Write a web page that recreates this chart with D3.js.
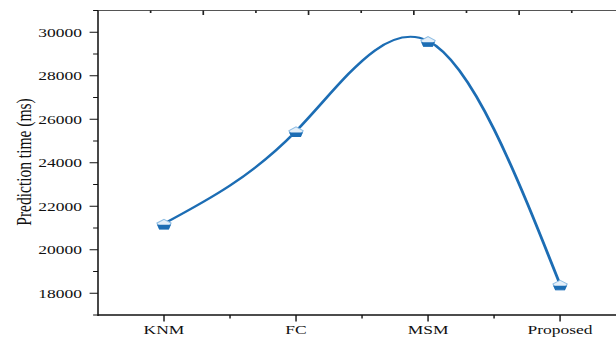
<!DOCTYPE html>
<html>
<head>
<meta charset="utf-8">
<script src="https://cdn.jsdelivr.net/npm/d3@7"></script>
<style>
  html, body { margin: 0; padding: 0; background: #fff; }
  svg { display: block; }
  text { font-family: "Liberation Serif", "Times New Roman", serif; fill: #111; }
</style>
</head>
<body>
<div id="chart"></div>
<script>
// chart data
const categories = ["KNM", "FC", "MSM", "Proposed"];
const predictionTime = [21200, 25450, 29600, 18400];
const yMajorTicks = [18000, 20000, 22000, 24000, 26000, 28000, 30000];
const yMinorTicks = [17000, 19000, 21000, 23000, 25000, 27000, 29000, 31000];
const yLabel = "Prediction time (ms)";

// the reference is a horizontally stretched picture, so we draw in a narrower
// space and let the viewBox stretch it out
const outW = 616, outH = 341;
const stretch = 1.4;
const W = outW / stretch, H = outH;
const plotLeft = 70, plotTop = 10.5, plotBottom = 315, plotRight = 447.2;

const svg = d3.select("#chart")
  .append("svg")
  .attr("width", outW)
  .attr("height", outH)
  .attr("viewBox", `0 0 ${W} ${H}`)
  .attr("preserveAspectRatio", "none");

const x = d3.scaleBand()
  .domain(categories)
  .range([plotLeft, plotRight])
  .padding(0);

const y = d3.scaleLinear()
  .domain([17000, 31000])
  .range([plotBottom, plotTop]);

const cx = d => x(d) + x.bandwidth() / 2;

// frame: top line with inward ticks
const topStep = 37.6;
const topScale = d3.scaleLinear().domain([0, 10]).range([plotLeft, plotLeft + 10 * topStep]);
const gTop = svg.append("g").attr("transform", `translate(0,${plotTop})`);
gTop.append("line")
  .attr("x1", plotLeft).attr("x2", W)
  .attr("stroke", "#555").attr("stroke-width", 1.2);
gTop.selectAll("line.t")
  .data(d3.range(1, 10))
  .join("line")
  .attr("class", "t")
  .attr("x1", topScale).attr("x2", topScale)
  .attr("y1", 0).attr("y2", d => d % 2 === 0 ? 4.5 : 2.5)
  .attr("stroke", "#222").attr("stroke-width", 1.2);

// y axis
const gY = svg.append("g").attr("transform", `translate(${plotLeft},0)`);
gY.append("line")
  .attr("y1", plotTop).attr("y2", plotBottom + 1)
  .attr("stroke", "#111").attr("stroke-width", 1.1);
gY.selectAll("line.maj")
  .data(yMajorTicks)
  .join("line")
  .attr("class", "maj")
  .attr("x1", 0).attr("x2", -6)
  .attr("y1", y).attr("y2", y)
  .attr("stroke", "#111").attr("stroke-width", 1);
gY.selectAll("line.min")
  .data(yMinorTicks)
  .join("line")
  .attr("class", "min")
  .attr("x1", 0).attr("x2", -3.5)
  .attr("y1", y).attr("y2", y)
  .attr("stroke", "#111").attr("stroke-width", 1);
gY.selectAll("text")
  .data(yMajorTicks)
  .join("text")
  .attr("x", -11.5)
  .attr("y", y)
  .attr("dy", "0.35em")
  .attr("text-anchor", "end")
  .style("font-size", "12.5px")
  .text(d => d);

svg.append("text")
  .attr("transform", `translate(16.5,${162}) rotate(-90)`)
  .attr("text-anchor", "middle")
  .attr("dy", "0.35em")
  .style("font-size", "15.5px")
  .text(yLabel);

// x axis
const gX = svg.append("g").attr("transform", `translate(0,${plotBottom})`);
gX.append("line")
  .attr("x1", plotLeft).attr("x2", W)
  .attr("stroke", "#111").attr("stroke-width", 1.3);
gX.selectAll("line.maj")
  .data(categories)
  .join("line")
  .attr("class", "maj")
  .attr("x1", cx).attr("x2", cx)
  .attr("y1", 0).attr("y2", 6.5)
  .attr("stroke", "#111").attr("stroke-width", 1);
gX.selectAll("line.min")
  .data(categories)
  .join("line")
  .attr("class", "min")
  .attr("x1", d => x(d) + x.bandwidth()).attr("x2", d => x(d) + x.bandwidth())
  .attr("y1", 0).attr("y2", 3.5)
  .attr("stroke", "#111").attr("stroke-width", 1);
gX.selectAll("text")
  .data(categories)
  .join("text")
  .attr("x", cx)
  .attr("y", 19.5)
  .attr("text-anchor", "middle")
  .style("font-size", "12.5px")
  .text(d => d);

// spline curve
const blue = "#1c6db4";
const line = d3.line()
  .x((d, i) => cx(categories[i]))
  .y(d => y(d))
  .curve(d3.curveNatural);

svg.append("path")
  .datum(predictionTime)
  .attr("d", line)
  .attr("fill", "none")
  .attr("stroke", blue)
  .attr("stroke-width", 2.1);

// half-filled pentagon markers
const R = 5.3;
const pent = d3.range(5).map(k => {
  const a = -Math.PI / 2 + k * 2 * Math.PI / 5;
  return [R * Math.cos(a), R * Math.sin(a) + 1];
});
const pentPath = "M" + pent.map(p => p.join(",")).join("L") + "Z";

svg.append("defs")
  .append("clipPath")
  .attr("id", "lowerHalf")
  .append("rect")
  .attr("x", -10).attr("y", 1.2)
  .attr("width", 20).attr("height", 10);

const markers = svg.append("g")
  .selectAll("g")
  .data(predictionTime)
  .join("g")
  .attr("transform", (d, i) => `translate(${cx(categories[i])},${y(d)})`);

markers.append("path")
  .attr("d", pentPath)
  .attr("fill", "#e4eff9")
  .attr("stroke", "#8fbde3")
  .attr("stroke-width", 0.9);
markers.append("path")
  .attr("d", pentPath)
  .attr("clip-path", "url(#lowerHalf)")
  .attr("fill", blue)
  .attr("stroke", blue)
  .attr("stroke-width", 0.9);
</script>
</body>
</html>
